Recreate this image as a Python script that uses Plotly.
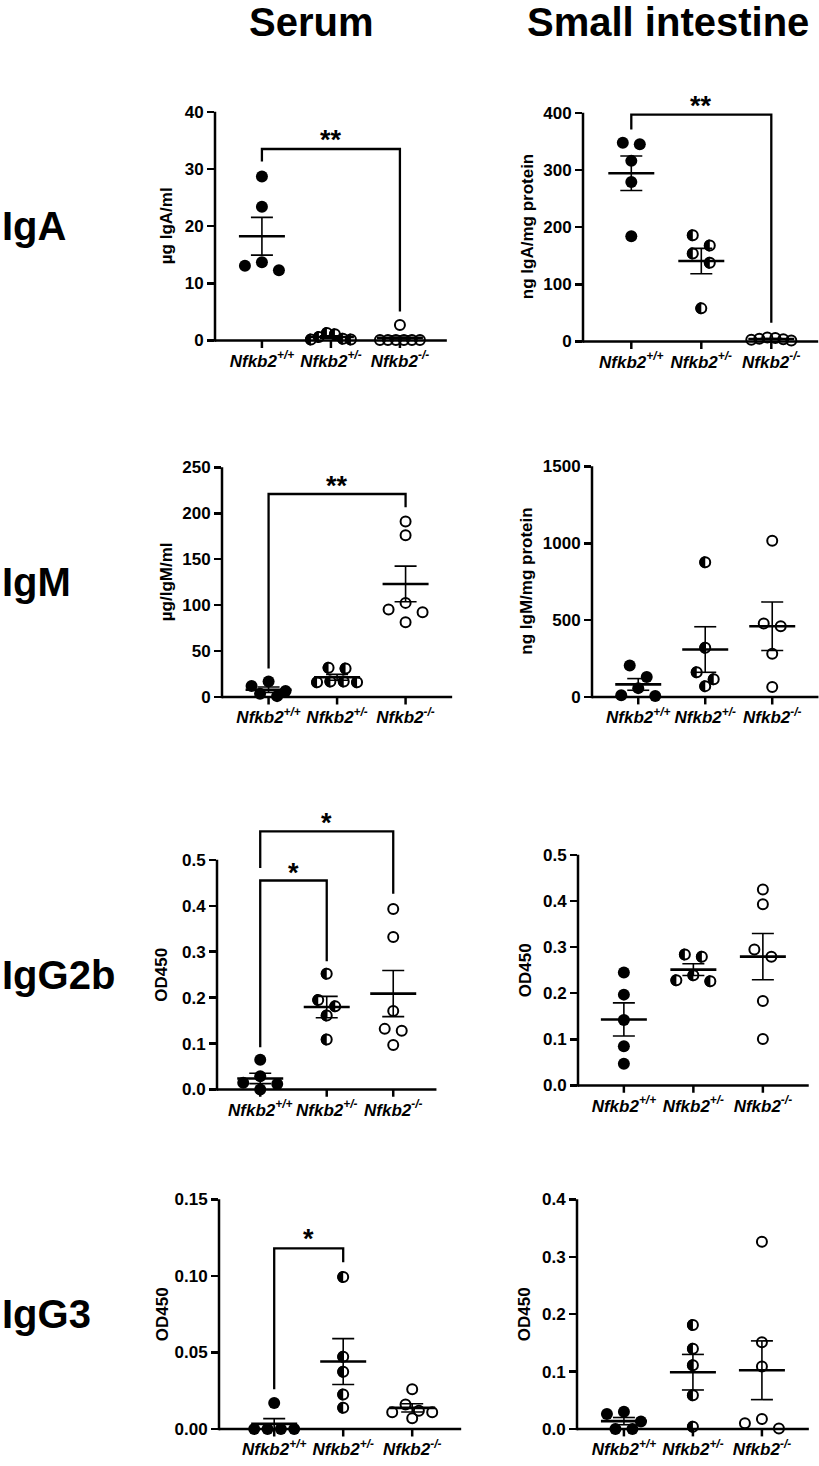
import numpy as np
import plotly.graph_objects as go

W, H = 819, 1466
FONT = "Liberation Sans, Arial, sans-serif"

# ---------------- data ----------------
genotypes = ["+/+", "+/-", "-/-"]
tick_labels = [f"<i>Nfkb2<sup>{g}</sup></i>" for g in genotypes]
col_titles = ["Serum", "Small intestine"]
row_titles = ["IgA", "IgM", "IgG2b", "IgG3"]

# Serum IgA (ug IgA/ml)
serum_iga_wt = [28.7, 23.4, 13.7, 12.3, 13.1]
serum_iga_het = [1.3, 1.1, 0.6, 0.3, 0.2, 0.2]
serum_iga_ko = [2.7, 0.1, 0.1, 0.1, 0.1, 0.1, 0.1]
serum_iga_ticks = [0, 10, 20, 30, 40]
serum_iga_ticklabels = ["0", "10", "20", "30", "40"]

# Small intestine IgA (ng IgA/mg protein)
si_iga_wt = [347.7, 345.0, 316.0, 279.0, 184.0]
si_iga_het = [186.0, 168.0, 154.0, 138.0, 58.0]
si_iga_ko = [7.0, 5.0, 4.0, 2.0, 6.0, 3.0]
si_iga_ticks = [0, 100, 200, 300, 400]
si_iga_ticklabels = ["0", "100", "200", "300", "400"]

# Serum IgM (ug/IgM/ml)
serum_igm_wt = [17.0, 12.0, 6.5, 3.6, 1.0]
serum_igm_het = [32.0, 31.0, 17.0, 16.0, 16.0, 17.0]
serum_igm_ko = [191.0, 176.0, 102.5, 95.3, 92.4, 81.5]
serum_igm_ticks = [0, 50, 100, 150, 200, 250]
serum_igm_ticklabels = ["0", "50", "100", "150", "200", "250"]

# Small intestine IgM (ng IgM/mg protein)
si_igm_wt = [205.0, 130.0, 58.0, 11.0, 6.5]
si_igm_het = [877.0, 320.0, 162.0, 115.0, 71.0]
si_igm_ko = [1017.0, 461.0, 478.0, 281.0, 65.0]
si_igm_ticks = [0, 500, 1000, 1500]
si_igm_ticklabels = ["0", "500", "1000", "1500"]

# Serum IgG2b (OD450)
serum_igg2b_wt = [0.065, 0.029, 0.0145, 0.012, 0.0]
serum_igg2b_het = [0.252, 0.181, 0.195, 0.161, 0.109]
serum_igg2b_ko = [0.393, 0.332, 0.171, 0.132, 0.128, 0.097]
serum_igg2b_ticks = [0, 0.1, 0.2, 0.3, 0.4, 0.5]
serum_igg2b_ticklabels = ["0.0", "0.1", "0.2", "0.3", "0.4", "0.5"]

# Small intestine IgG2b (OD450)
si_igg2b_wt = [0.245, 0.197, 0.142, 0.085, 0.047]
si_igg2b_het = [0.284, 0.279, 0.239, 0.226, 0.228]
si_igg2b_ko = [0.425, 0.393, 0.295, 0.279, 0.183, 0.101]
si_igg2b_ticks = [0, 0.1, 0.2, 0.3, 0.4, 0.5]
si_igg2b_ticklabels = ["0.0", "0.1", "0.2", "0.3", "0.4", "0.5"]

# Serum IgG3 (OD450)
serum_igg3_wt = [0.017, 0.0, 0.0, 0.0, 0.0]
serum_igg3_het = [0.0993, 0.0472, 0.0374, 0.0226, 0.0139]
serum_igg3_ko = [0.026, 0.016, 0.012, 0.011, 0.011, 0.007]
serum_igg3_ticks = [0, 0.05, 0.10, 0.15]
serum_igg3_ticklabels = ["0.00", "0.05", "0.10", "0.15"]

# Small intestine IgG3 (OD450)
si_igg3_wt = [0.030, 0.026, 0.013, 0.0, 0.0]
si_igg3_het = [0.181, 0.140, 0.111, 0.059, 0.004]
si_igg3_ko = [0.326, 0.151, 0.109, 0.0174, 0.001, 0.0099]
si_igg3_ticks = [0, 0.1, 0.2, 0.3, 0.4]
si_igg3_ticklabels = ["0.0", "0.1", "0.2", "0.3", "0.4"]

# significance brackets: (group a, group b, left foot, top, right foot, label, label level)
serum_iga_brackets = [(0, 2, 31.3, 33.5, 5.1, "**", 36.2)]
si_iga_brackets = [(0, 2, 371, 397, 33, "**", 422)]
serum_igm_brackets = [(0, 2, 31, 221, 206.5, "**", 236.6)]
si_igm_brackets = []
serum_igg2b_brackets = [(0, 1, 0.092, 0.455, 0.279, "*", 0.484),
                        (0, 2, 0.482, 0.562, 0.426, "*", 0.593)]
si_igg2b_brackets = []
serum_igg3_brackets = [(0, 1, 0.026, 0.118, 0.109, "*", 0.128)]
si_igg3_brackets = []

panels = [
    ([serum_iga_wt, serum_iga_het, serum_iga_ko], serum_iga_ticks, serum_iga_ticklabels, "µg IgA/ml", serum_iga_brackets),
    ([si_iga_wt, si_iga_het, si_iga_ko], si_iga_ticks, si_iga_ticklabels, "ng IgA/mg protein", si_iga_brackets),
    ([serum_igm_wt, serum_igm_het, serum_igm_ko], serum_igm_ticks, serum_igm_ticklabels, "µg/IgM/ml", serum_igm_brackets),
    ([si_igm_wt, si_igm_het, si_igm_ko], si_igm_ticks, si_igm_ticklabels, "ng IgM/mg protein", si_igm_brackets),
    ([serum_igg2b_wt, serum_igg2b_het, serum_igg2b_ko], serum_igg2b_ticks, serum_igg2b_ticklabels, "OD450", serum_igg2b_brackets),
    ([si_igg2b_wt, si_igg2b_het, si_igg2b_ko], si_igg2b_ticks, si_igg2b_ticklabels, "OD450", si_igg2b_brackets),
    ([serum_igg3_wt, serum_igg3_het, serum_igg3_ko], serum_igg3_ticks, serum_igg3_ticklabels, "OD450", serum_igg3_brackets),
    ([si_igg3_wt, si_igg3_het, si_igg3_ko], si_igg3_ticks, si_igg3_ticklabels, "OD450", si_igg3_brackets),
]

# ---------------- layout (pixel boxes, page coordinates) ----------------
# left px, category spacing px, left gap, right gap (in categories), zero line px, height of top tick px, y-title x px
boxes = [
    (215, 69.0, 0.68, 0.68, 341, 229, 166),
    (583, 70.0, 0.69, 0.67, 342, 229, 527),
    (222, 68.5, 0.68, 0.68, 698, 230, 166),
    (592, 67.0, 0.69, 0.69, 698, 231, 527),
    (217, 66.5, 0.65, 0.65, 1091, 230, 162),
    (578, 69.5, 0.66, 0.66, 1087, 231, 525),
    (219, 69.0, 0.80, 0.71, 1431, 230, 162),
    (577, 69.0, 0.68, 0.68, 1431, 230, 524),
]
BELOW_PX = 8
ABOVE_FRAC = 1.3
AXW = 2.5
DOT = 12
OPEN = 10
OPEN_LW = 2
TICK_FS = 17
TITLE_FS = 17


def px_to_xp(px):
    return px / W


def px_to_yp(py):
    return 1 - py / H


def swarm(vals, pxu, sp, s=17.0, d=12.0, maxw=40.0):
    n = len(vals)
    order = sorted(range(n), key=lambda i: -vals[i])
    rows = []
    for i in order:
        if rows and (vals[rows[-1][0]] - vals[i]) * pxu < d:
            rows[-1].append(i)
        else:
            rows.append([i])
    offs = [0.0] * n
    for row in rows:
        m = len(row)
        step = s if m <= 1 else min(s, maxw / (m - 1))
        pattern = []
        if m % 2:
            pattern.append(0.0)
            k = 1
            while len(pattern) < m:
                pattern += [-k * step, k * step]
                k += 1
        else:
            k = 0.5
            while len(pattern) < m:
                pattern += [-k * step, k * step]
                k += 1
        for idx, o in zip(row, pattern[:m]):
            offs[idx] = o / sp
    return offs


r = OPEN / 2 + OPEN_LW / 2
kk = 0.5523 * r
half_disc = (f"M 0,{-r} C {-kk},{-r} {-r},{-kk} {-r},0 "
             f"C {-r},{kk} {-kk},{r} 0,{r} Z")

fig = go.Figure()
shapes = []
annotations = []
layout_axes = {}

for k, (panel, box) in enumerate(zip(panels, boxes), start=1):
    groups, yticks, ytl, ytitle, brackets = panel
    left, sp, gl, gr, y0, hpx, tx = box
    top = yticks[-1]
    pxu = hpx / top
    xs = "" if k == 1 else str(k)
    xa, ya = "x" + xs, "y" + xs

    lo = -BELOW_PX / pxu
    hi = top * ABOVE_FRAC
    right = left + sp * (2 + gl + gr)
    layout_axes["xaxis" + xs] = dict(
        domain=[px_to_xp(left), min(1.0, px_to_xp(right))],
        range=[-gl, 2 + gr], anchor=ya, showline=False, showgrid=False,
        zeroline=False, ticks="", tickvals=[0, 1, 2], ticktext=tick_labels,
        tickfont=dict(family=FONT, size=TICK_FS, color="black", weight="bold"),
        ticklabelstandoff=0, fixedrange=True)
    layout_axes["yaxis" + xs] = dict(
        domain=[px_to_yp(y0 + BELOW_PX), px_to_yp(y0 - hpx * ABOVE_FRAC)],
        range=[lo, hi], anchor=xa, showline=False, showgrid=False,
        zeroline=False, ticks="outside", ticklen=7, tickwidth=AXW,
        tickcolor="black", tickvals=yticks, ticktext=ytl,
        tickfont=dict(family=FONT, size=TICK_FS, color="black", weight="bold"),
        fixedrange=True)

    # axis lines
    shapes.append(dict(type="line", xref=xa + " domain", x0=0, x1=1, yref=ya,
                       y0=0, y1=0, line=dict(color="black", width=AXW), layer="below"))
    shapes.append(dict(type="line", xref=xa + " domain", x0=0, x1=0, yref=ya,
                       y0=lo * 0.15, y1=top, line=dict(color="black", width=AXW), layer="below"))
    for c in range(3):
        shapes.append(dict(type="line", xref=xa, x0=c, x1=c, yref=ya, y0=0,
                           y1=lo * 0.92, line=dict(color="black", width=AXW), layer="below"))

    # mean +/- SEM
    mean_half = 23 / sp
    sem_half = 11 / sp
    for c, vals in enumerate(groups):
        v = np.array(vals, dtype=float)
        m = v.mean()
        se = v.std(ddof=1) / np.sqrt(len(v))
        fig.add_trace(go.Scatter(
            x=[c - sem_half, c + sem_half, None, c - sem_half, c + sem_half, None, c, c],
            y=[m + se, m + se, None, m - se, m - se, None, m - se, m + se],
            mode="lines", line=dict(color="black", width=1.6), xaxis=xa, yaxis=ya,
            showlegend=False, hoverinfo="skip"))
        fig.add_trace(go.Scatter(
            x=[c - mean_half, c + mean_half], y=[m, m], mode="lines",
            line=dict(color="black", width=2.6), xaxis=xa, yaxis=ya,
            showlegend=False, hoverinfo="skip"))

    # points
    for c, vals in enumerate(groups):
        offs = swarm(vals, pxu, sp)
        xsv = [c + o for o in offs]
        if c == 0:
            mk = dict(size=DOT, color="black", line=dict(width=0))
        else:
            mk = dict(size=OPEN, color="rgba(0,0,0,0)", line=dict(color="black", width=OPEN_LW))
        fig.add_trace(go.Scatter(x=xsv, y=vals, mode="markers", marker=mk,
                                 xaxis=xa, yaxis=ya, cliponaxis=False,
                                 showlegend=False, hoverinfo="skip"))
        if c == 1:
            for xv, yv in zip(xsv, vals):
                shapes.append(dict(type="path", xref=xa, yref=ya,
                                   xsizemode="pixel", ysizemode="pixel",
                                   xanchor=xv, yanchor=yv, path=half_disc,
                                   fillcolor="black", line=dict(width=0), layer="above"))

    # significance brackets
    for (a, b, yl, yt, yr, lab, ly) in brackets:
        fig.add_trace(go.Scatter(x=[a, a, b, b], y=[yl, yt, yt, yr], mode="lines",
                                 line=dict(color="black", width=2.3), xaxis=xa, yaxis=ya,
                                 showlegend=False, hoverinfo="skip"))
        annotations.append(dict(text=lab, x=(a + b) / 2, y=ly, xref=xa, yref=ya,
                                showarrow=False, yanchor="middle", yshift=-6,
                                font=dict(family=FONT, size=27, color="black", weight="bold")))

    # y title
    annotations.append(dict(text=ytitle, x=px_to_xp(tx), y=px_to_yp(y0 - hpx / 2),
                            xref="paper", yref="paper", showarrow=False, textangle=-90,
                            xanchor="center", yanchor="middle",
                            font=dict(family=FONT, size=TITLE_FS, color="black", weight="bold")))

# row titles
for i, t in enumerate(row_titles):
    y0, hpx = boxes[2 * i][4], boxes[2 * i][5]
    annotations.append(dict(text=t, x=0, y=px_to_yp(y0 - hpx / 2), xref="paper", yref="paper",
                            showarrow=False, xanchor="left", yanchor="middle",
                            font=dict(family=FONT, size=40, color="black", weight="bold")))

# column titles
for t, cx in zip(col_titles, [311, 668]):
    annotations.append(dict(text=t, x=px_to_xp(cx), y=px_to_yp(22), xref="paper", yref="paper",
                            showarrow=False, xanchor="center", yanchor="middle",
                            font=dict(family=FONT, size=40, color="black", weight="bold")))

fig.update_layout(width=W, height=H, margin=dict(l=0, r=0, t=0, b=0),
                  paper_bgcolor="white", plot_bgcolor="white",
                  shapes=shapes, annotations=annotations, showlegend=False,
                  hovermode=False,
                  font=dict(family=FONT, color="black"), **layout_axes)

fig.write_html("out.html", config={"displayModeBar": False, "staticPlot": True},
               post_script="document.body.style.margin='0px';")
